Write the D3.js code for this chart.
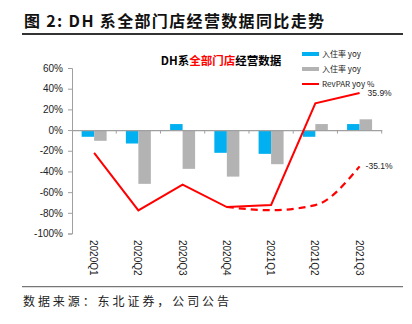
<!DOCTYPE html>
<html><head><meta charset="utf-8">
<script src="https://cdn.jsdelivr.net/npm/d3@7"></script>
<style>body{margin:0;background:#fff}svg{display:block}</style>
</head><body>
<script>
const categories = ["2020Q1","2020Q2","2020Q3","2020Q4","2021Q1","2021Q2","2021Q3"];
const occYoy = [-6.5, -13, 5.8, -22, -23, -6.5, 5.8];
const adrYoy = [-10.4, -52, -37.5, -45, -33, 5.8, 10.4];
const revparYoy = [-22, -77.6, -52.7, -74.4, -72.4, 25.9, 35.9];
const revparDashCats = ["2020Q4","2021Q1","2021Q2","2021Q3"];
const revparDash = [-74.4, -77.5, -72.5, -35.1];
const yTicks = [60,40,20,0,-20,-40,-60,-80,-100];
const legendLabels = ["入住率 yoy","入住率 yoy","RevPAR yoy %"];

const W=412,H=324;
const svg=d3.select("body").append("svg").attr("width",W).attr("height",H);
svg.append("rect").attr("width",W).attr("height",H).attr("fill","#fff");

// header
svg.append("text").attr("x",24).attr("y",27).attr("font-family","'Noto Sans CJK SC'").attr("font-weight","bold")
  .attr("font-size",16).attr("fill","#111").attr("textLength",300).attr("lengthAdjust","spacing")
  .text("图 2: DH 系全部门店经营数据同比走势");
svg.append("line").attr("x1",22).attr("x2",403).attr("y1",34).attr("y2",34).attr("stroke","#333").attr("stroke-width",2);
svg.append("line").attr("x1",22).attr("x2",403).attr("y1",286.7).attr("y2",286.7).attr("stroke","#777").attr("stroke-width",1.2);
svg.append("text").attr("x",23).attr("y",306).attr("font-family","'Noto Sans CJK SC'")
  .attr("font-size",12).attr("fill","#222").attr("textLength",206).attr("lengthAdjust","spacing")
  .text("数据来源：东北证券，公司公告");

// chart title
const ct=svg.append("text").attr("x",221).attr("y",65).attr("text-anchor","middle")
  .attr("font-family","'Noto Sans CJK SC'").attr("font-weight","bold").attr("font-size",11.5);
ct.append("tspan").attr("fill","#000").text("DH系");
ct.append("tspan").attr("fill","#ff0000").text("全部门店");
ct.append("tspan").attr("fill","#000").text("经营数据");

const x=d3.scaleBand().domain(categories).range([72,381.7]).paddingInner(0).paddingOuter(0);
const x1=d3.scaleBand().domain(["occ","adr"]).range([0,x.bandwidth()]).paddingInner(0).paddingOuter(0.77);
const y=d3.scaleLinear().domain([-100,60]).range([233.5,68]);

// y axis
const yAxis=d3.axisLeft(y).tickValues(yTicks).tickSize(4).tickPadding(5).tickFormat(d=>d+"%");
const ga=svg.append("g").attr("transform","translate(72,0)").call(yAxis);
ga.select(".domain").attr("stroke","#a0a0a0");
ga.selectAll(".tick line").attr("stroke","#a0a0a0");
ga.selectAll(".tick text").attr("font-family","Arial, 'Liberation Sans'").attr("font-size",10).attr("fill","#222");

// bars
const g=svg.append("g");
categories.forEach((c,i)=>{
  [["occ",occYoy[i],"#00b0f0"],["adr",adrYoy[i],"#b3b3b3"]].forEach(([k,v,col])=>{
    g.append("rect").attr("x",x(c)+x1(k)).attr("width",x1.bandwidth())
      .attr("y",y(Math.max(0,v))).attr("height",Math.abs(y(v)-y(0))).attr("fill",col);
  });
});

// x axis at zero
const xAxis=d3.axisBottom(x).tickSize(0).tickFormat("");
const gx=svg.append("g").attr("transform",`translate(0,${y(0)})`).call(xAxis);
gx.select(".domain").attr("stroke","#a0a0a0").attr("stroke-width",1.2);
const bounds=categories.map(c=>x(c)+x.bandwidth());
gx.selectAll(".bt").data(bounds).enter().append("line").attr("x1",d=>d).attr("x2",d=>d)
  .attr("y1",0).attr("y2",3.5).attr("stroke","#a0a0a0");

// category labels (rotated)
svg.selectAll(".cl").data(categories).enter().append("text")
  .attr("transform",d=>`translate(${x(d)+x.bandwidth()/2-4},240) rotate(90)`)
  .attr("font-family","Arial, 'Liberation Sans'").attr("font-size",10).attr("fill","#222").text(d=>d);

// lines
const line=d3.line().x(d=>x(d[0])+x.bandwidth()/2).y(d=>y(d[1]));
svg.append("path").datum(categories.map((c,i)=>[c,revparYoy[i]])).attr("d",line)
  .attr("fill","none").attr("stroke","#ff0000").attr("stroke-width",2);
const lineS=d3.line().curve(d3.curveMonotoneX).x(d=>x(d[0])+x.bandwidth()/2).y(d=>y(d[1]));
svg.append("path").datum(revparDashCats.map((c,i)=>[c,revparDash[i]])).attr("d",lineS)
  .attr("fill","none").attr("stroke","#ff0000").attr("stroke-width",2.2).attr("stroke-dasharray","7,5");

// data labels
svg.append("text").attr("x",x("2021Q3")+x.bandwidth()/2+8).attr("y",y(35.9)+3)
  .attr("font-family","Arial, 'Liberation Sans'").attr("font-size",8.5).attr("fill","#222").text("35.9%");
svg.append("text").attr("x",x("2021Q3")+x.bandwidth()/2+6).attr("y",y(-35.1)+3)
  .attr("font-family","Arial, 'Liberation Sans'").attr("font-size",8.5).attr("fill","#222").text("-35.1%");

// legend
const lg=svg.append("g");
const lcol=["#00b0f0","#b3b3b3","#ff0000"];
legendLabels.forEach((t,i)=>{
  const yy=54+i*15;
  if(i<2) lg.append("rect").attr("x",302).attr("y",yy-2).attr("width",17).attr("height",4).attr("fill",lcol[i]);
  else lg.append("line").attr("x1",302).attr("x2",319).attr("y1",yy).attr("y2",yy).attr("stroke",lcol[i]).attr("stroke-width",2);
  lg.append("text").attr("x",322).attr("y",yy+3).attr("font-family","'Noto Sans CJK SC'").attr("font-size",8).attr("fill","#222").text(t);
});
</script>
</body></html>
